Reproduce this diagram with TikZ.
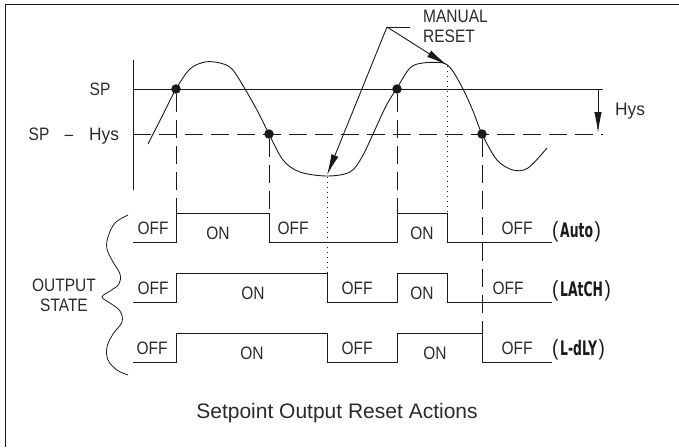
\documentclass[tikz,border=0pt]{standalone}
\usepackage{fontspec}
\usepackage{graphicx}
\setmainfont{Liberation Sans}
\newfontfamily\labfont{Liberation Sans}[FakeStretch=0.86]
\newfontfamily\segfont{DejaVu Sans}
\usetikzlibrary{arrows.meta}
\definecolor{ink}{HTML}{1A1A1A}
\definecolor{txt}{HTML}{2A2A2A}
\tikzset{
  lbl/.style={text=txt,font=\labfont\fontsize{18}{19}\selectfont,inner sep=0pt},
  wave/.style={draw=ink,line width=0.9pt,line join=miter},
  guide/.style={draw=ink,line width=0.9pt,dash pattern=on 18pt off 8pt},
  dotline/.style={draw=ink,line width=0.8pt,dash pattern=on 1pt off 4pt},
  pt/.style={circle,fill=ink,inner sep=0pt,minimum size=9.5pt},
  tip/.style={-{Latex[length=21pt,width=7.5pt]}},
  mode/.style={text=ink,inner sep=0pt,anchor=west}
}
\newcommand{\segtxt}[1]{{\labfont\fontsize{22}{24}\selectfont(}\,\raisebox{0.5pt}{\scalebox{0.62}[1]{\segfont\bfseries\fontsize{20}{22}\selectfont #1}}\,{\labfont\fontsize{22}{24}\selectfont)}}
\begin{document}
\begin{tikzpicture}[x=1pt,y=-1pt]
\useasboundingbox (0,0) rectangle (679,447);
% frame
\draw[ink,line width=1.6pt] (5.5,447) -- (5.5,4.5) -- (679,4.5);
% axis and levels
\coordinate (axT) at (133,60);
\coordinate (axB) at (133,190);
\draw[wave] (axT) -- (axB);
\coordinate (spL) at (133,89);
\coordinate (spR) at (603,89);
\coordinate (hyL) at (133,134);
\coordinate (hyR) at (603,134);
\draw[wave] (spL) -- (spR);
\draw[guide] (hyL) -- (hyR);
\node[lbl] (sp) at (100,89) {SP};
\node[lbl,anchor=base] (sph) at (39,140.5) {SP};
\node[lbl,anchor=base] (sphm) at (69,140.5) {–};
\node[lbl,anchor=base] (sphh) at (104,140.5) {\scalebox{1.12}[1]{Hys}};
% Hys arrow
\coordinate (ha) at (598,89);
\coordinate (hb) at (598,133);
\draw[wave,tip] (ha) -- (hb);
\node[lbl] (hys) at (630,111) {\scalebox{1.12}[1]{Hys}};
% process curve
\draw[wave,line join=round] plot[smooth,tension=0.55] coordinates {
 (148,144) (162,116.5) (176,89) (190,69) (205,62) (220,63) (232,69) (245,89) (258,112) (269,134)
 (283,160) (300,172) (327,176) (350,172) (362,157) (373,134) (386,106) (397,88) (410,68) (423,63)
 (443,63) (452,70) (463,89) (473,111) (482,134) (497,160) (513,170) (528,168) (547,148)};
% crossing dots
\node[pt] (d1) at (176,89) {};
\node[pt] (d2) at (269,134) {};
\node[pt] (d3) at (397,89) {};
\node[pt] (d4) at (482,134) {};
% manual reset
\node[lbl,align=left,anchor=north west] (mr) at (423,10) {MANUAL\\[1pt]RESET};
\coordinate (mrA) at (410,27);
\coordinate (mrB) at (387,27);
\coordinate (tr) at (327,175);
\coordinate (pk) at (447,65);
\draw[wave] (mrA) -- (mrB);
\draw[wave,tip] (mrB) -- (tr);
\draw[wave,tip] (mrB) -- (pk);
% guide lines to outputs
\coordinate (g1) at (176,213);
\coordinate (g2) at (269,213);
\coordinate (g3) at (397,213);
\coordinate (g4) at (482,333);
\draw[guide] (d1) -- (g1);
\draw[guide] (d2) -- (g2);
\draw[guide] (d3) -- (g3);
\draw[guide] (d4) -- (g4);
\coordinate (t1) at (327,177);
\coordinate (t1b) at (327,273);
\coordinate (p1) at (447,66);
\coordinate (p1b) at (447,213);
\draw[dotline] (t1) -- (t1b);
\draw[dotline] (p1) -- (p1b);
% output rows
\draw[wave] (133,242) -- (176,242) -- (176,213) -- (269,213) -- (269,242) -- (397,242) -- (397,213) -- (447,213) -- (447,242) -- (552,242);
\draw[wave] (133,302) -- (176,302) -- (176,273) -- (327,273) -- (327,302) -- (397,302) -- (397,273) -- (447,273) -- (447,302) -- (552,302);
\draw[wave] (133,362) -- (176,362) -- (176,333) -- (327,333) -- (327,362) -- (397,362) -- (397,333) -- (482,333) -- (482,362) -- (552,362);
% row texts
\node[lbl] (a1) at (153,228) {OFF};
\node[lbl] (a2) at (218,233) {ON};
\node[lbl] (a3) at (293,228) {OFF};
\node[lbl] (a4) at (422,233) {ON};
\node[lbl] (a5) at (517,228) {OFF};
\node[lbl] (b1) at (153,288) {OFF};
\node[lbl] (b2) at (253,293) {ON};
\node[lbl] (b3) at (357,288) {OFF};
\node[lbl] (b4) at (422,293) {ON};
\node[lbl] (b5) at (508,288) {OFF};
\node[lbl] (c1) at (152,348) {OFF};
\node[lbl] (c2) at (252,353) {ON};
\node[lbl] (c3) at (357,348) {OFF};
\node[lbl] (c4) at (435,353) {ON};
\node[lbl] (c5) at (517,348) {OFF};
% mode labels
\node[mode] (m1) at (552,232) {\segtxt{Auto}};
\node[mode] (m2) at (552,291) {\segtxt{LAtCH}};
\node[mode] (m3) at (552,350) {\segtxt{L-dLY}};
% brace and output state
\draw[wave,line width=0.8pt] plot[smooth,tension=0.6] coordinates {
 (128,215) (115,223) (108,237) (107,249) (113,262) (120,274) (119,284) (110,291) (102,297)
 (110,303) (120,311) (122,322) (113,334) (107,347) (108,360) (117,370) (128,375)};
\node[lbl,align=center] (os) at (64,295) {OUTPUT\\[1pt]STATE};
% caption
\node[text=txt,font=\fontsize{21}{24}\selectfont,inner sep=0pt] (cap) at (337,413) {Setpoint Output Reset Actions};
\end{tikzpicture}
\end{document}
